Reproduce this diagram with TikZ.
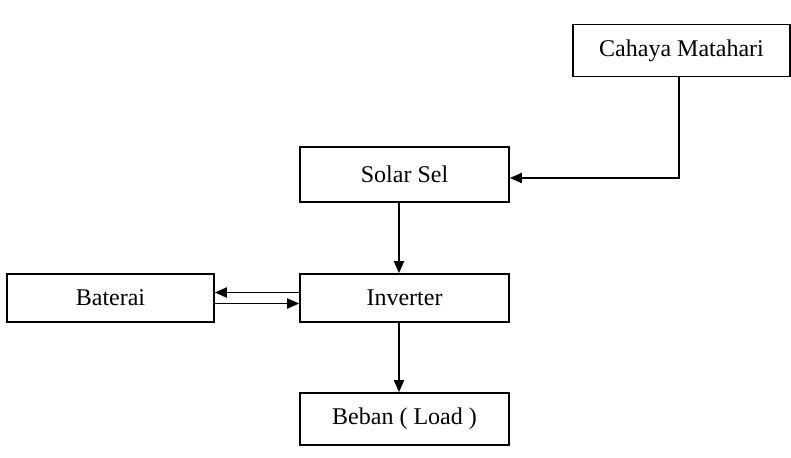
\documentclass[tikz,border=0pt]{standalone}
\usepackage{fontspec}
\setmainfont{Liberation Serif}
\usetikzlibrary{arrows.meta,positioning}

\begin{document}
\begin{tikzpicture}[
  x=0.5pt,y=-0.5pt,
  font=\fontsize{12}{14}\selectfont,>={Triangle[length=6pt,width=5pt]},
  blok/.style={draw,line width=0.8pt,align=center,inner sep=2pt,
               minimum width=104.5pt,minimum height=26pt},
  ar/.style={->,line width=0.9pt},
]
\useasboundingbox (0,0) rectangle (791,458);

% blocks
\node[blok,minimum width=108.5pt] (cahaya) at (681.5,50.5) {Cahaya Matahari};
\node[blok,minimum height=27.5pt] (solar) at (404.5,174.5) {Solar Sel};
\node[blok,minimum height=24pt] (inverter) at (404.5,298) {Inverter};
\node[blok,minimum width=103.5pt,minimum height=24pt] (baterai) at (110.5,298) {Baterai};
\node[blok] (beban) at (404.5,419) {Beban ( Load )};

% connectors
\draw[ar] ([xshift=-1.25pt]cahaya.south) |- ([yshift=-1.75pt]solar.east);
\draw[ar] ([xshift=-2.75pt]solar.south) -- ([xshift=-2.75pt]inverter.north);
\draw[ar] ([yshift=2.75pt]inverter.west) -- ([yshift=2.75pt]baterai.east);
\draw[ar] ([yshift=-2.75pt]baterai.east) -- ([yshift=-2.75pt]inverter.west);
\draw[ar] ([xshift=-2.75pt]inverter.south) -- ([xshift=-2.75pt]beban.north);
\end{tikzpicture}
\end{document}
